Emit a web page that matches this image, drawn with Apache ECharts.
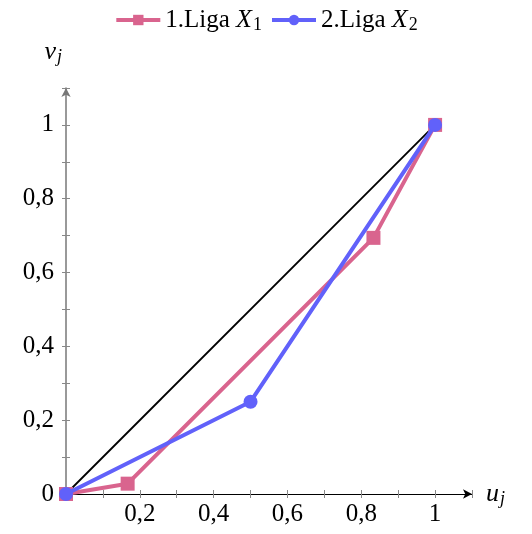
<!DOCTYPE html>
<html>
<head>
<meta charset="utf-8">
<script src="https://cdn.jsdelivr.net/npm/echarts@6/dist/echarts.min.js"></script>
<style>
  html, body { margin: 0; padding: 0; background: #fff; }
  #myChart { width: 532px; height: 534px; }
</style>
</head>
<body>
<div id="myChart"></div>
<script>
  // data
  const liga1U = [0, 0.167, 0.833, 1]
  const liga1V = [0, 0.028, 0.694, 1]
  const liga2U = [0, 0.5, 1]
  const liga2V = [0, 0.25, 1]
  const diagU = [0, 1]
  const diagV = [0, 1]
  const seriesNames = ['1.Liga', '2.Liga']
  const axisMax = 1.1
  const tickStep = 0.1

  const pink = '#d9648e'
  const blue = '#6161fa'

  const pairs = (xs, ys) => xs.map((x, i) => [x, ys[i]])

  // only label every second tick, with a decimal comma
  const fmt = (skipZero) => (v) => {
    const r = Math.round(v * 10)
    if (r % 2 !== 0 || r > 10) return ''
    if (r === 0 && skipZero) return ''
    return String(r / 10).replace('.', ',')
  }

  const rich = {
    n: { fontFamily: 'Times New Roman', fontSize: 25 },
    i: { fontFamily: 'Times New Roman', fontSize: 26, fontStyle: 'italic' },
    s: { fontFamily: 'Times New Roman', fontSize: 18, verticalAlign: 'bottom', padding: [10, 0, 0, 1] },
    si: { fontFamily: 'Times New Roman', fontSize: 18, fontStyle: 'italic', verticalAlign: 'bottom', padding: [10, 0, 0, 1] }
  }

  let myChart = echarts.init(document.getElementById('myChart'))

  myChart.setOption({
    animation: false,
    textStyle: { fontFamily: 'Times New Roman' },
    legend: {
      top: 2,
      left: 'center',
      itemWidth: 44,
      itemHeight: 13,
      itemGap: 8,
      data: seriesNames,
      lineStyle: { width: 4 },
      formatter: (name) => '{n|' + name + ' }{i|X}{s|' + (seriesNames.indexOf(name) + 1) + '}',
      textStyle: { fontFamily: 'Times New Roman', fontSize: 25, color: '#000', rich: rich }
    },
    grid: { left: 66, right: 60, top: 88, bottom: 40 },
    xAxis: [
      {
        type: 'value', min: 0, max: axisMax, interval: tickStep,
        splitLine: { show: false },
        name: '{i|u}{si|j}',
        nameLocation: 'end',
        nameGap: 14,
        nameTextStyle: { fontFamily: 'Times New Roman', fontSize: 26, color: '#000', verticalAlign: 'middle', rich: rich },
        axisLine: { lineStyle: { color: '#000', width: 1.2 }, symbol: ['none', 'arrow'], symbolSize: [7, 9] },
        axisTick: { length: 4, lineStyle: { color: '#888' } },
        axisLabel: { fontFamily: 'Times New Roman', fontSize: 25, color: '#000', margin: 8, formatter: fmt(true) }
      },
      {
        type: 'value', min: 0, max: axisMax, interval: tickStep,
        splitLine: { show: false },
        position: 'bottom',
        axisLine: { show: false },
        axisTick: { inside: true, length: 4, lineStyle: { color: '#888' } },
        axisLabel: { show: false }
      }
    ],
    yAxis: [
      {
        type: 'value', min: 0, max: axisMax, interval: tickStep,
        splitLine: { show: false },
        name: '{i|v}{si|j}',
        nameLocation: 'end',
        nameGap: 22,
        nameTextStyle: { fontFamily: 'Times New Roman', fontSize: 26, color: '#000', align: 'right', padding: [0, 4, 0, 0], rich: rich },
        axisLine: { lineStyle: { color: '#777', width: 1.5 }, symbol: ['none', 'arrow'], symbolSize: [7, 9] },
        axisTick: { length: 4, lineStyle: { color: '#888' } },
        axisLabel: { fontFamily: 'Times New Roman', fontSize: 25, color: '#000', margin: 12, formatter: fmt(false) }
      },
      {
        type: 'value', min: 0, max: axisMax, interval: tickStep,
        splitLine: { show: false },
        position: 'left',
        axisLine: { show: false },
        axisTick: { inside: true, length: 4, lineStyle: { color: '#888' } },
        axisLabel: { show: false }
      }
    ],
    series: [
      {
        type: 'line',
        data: pairs(diagU, diagV),
        symbol: 'none',
        lineStyle: { color: '#000', width: 1.8 },
        z: 1
      },
      {
        name: seriesNames[0],
        type: 'line',
        data: pairs(liga1U, liga1V),
        symbol: 'rect',
        symbolSize: 14,
        itemStyle: { color: pink },
        lineStyle: { color: pink, width: 4 },
        z: 2
      },
      {
        name: seriesNames[1],
        type: 'line',
        data: pairs(liga2U, liga2V),
        symbol: 'circle',
        symbolSize: 14,
        itemStyle: { color: blue },
        lineStyle: { color: blue, width: 4 },
        z: 3
      }
    ]
  })
  window.addEventListener('resize', () => {
    myChart.resize()
  })
</script>
</body>
</html>
